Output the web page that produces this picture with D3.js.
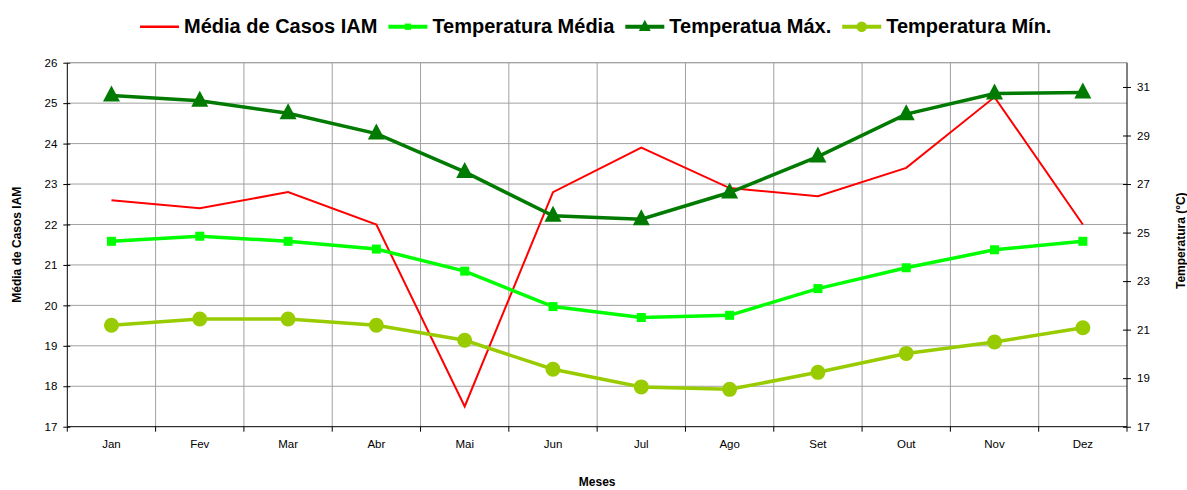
<!DOCTYPE html>
<html>
<head>
<meta charset="utf-8">
<script src="https://cdn.jsdelivr.net/npm/d3@7"></script>
<style>
  body { margin: 0; background: #fff; }
  text { font-family: "Liberation Sans", Arial, sans-serif; }
</style>
</head>
<body>
<svg id="chart" width="1187" height="490"></svg>
<script>
const meses = ["Jan", "Fev", "Mar", "Abr", "Mai", "Jun", "Jul", "Ago", "Set", "Out", "Nov", "Dez"];
const casosIAM = [22.6, 22.4, 22.8, 22.0, 17.5, 22.8, 23.9, 22.9, 22.7, 23.4, 25.15, 22.0];
const tempMedia = [24.64, 24.85, 24.64, 24.32, 23.41, 21.95, 21.5, 21.59, 22.69, 23.55, 24.29, 24.64];
const tempMax = [30.65, 30.43, 29.92, 29.08, 27.5, 25.69, 25.55, 26.65, 28.13, 29.88, 30.73, 30.77];
const tempMin = [21.18, 21.44, 21.44, 21.18, 20.56, 19.37, 18.64, 18.54, 19.24, 20.02, 20.49, 21.08];
const leftTicks = [17, 18, 19, 20, 21, 22, 23, 24, 25, 26];
const rightTicks = [17, 19, 21, 23, 25, 27, 29, 31];

const margin = { top: 62.7, right: 60, bottom: 63.3, left: 67.3 };
const width = 1187 - margin.left - margin.right;
const height = 490 - margin.top - margin.bottom;

const svg = d3.select("#chart");
const g = svg.append("g").attr("transform", "translate(" + margin.left + "," + margin.top + ")");

const x = d3.scaleBand().domain(meses).range([0, width]);
const yL = d3.scaleLinear().domain([17, 26]).range([height, 0]);
const yR = d3.scaleLinear().domain([17, 32]).range([height, 0]);

// grid
g.append("g")
  .selectAll("line")
  .data(leftTicks.slice(1))
  .enter().append("line")
  .attr("x1", 0).attr("x2", width)
  .attr("y1", d => yL(d)).attr("y2", d => yL(d))
  .attr("stroke", "#a0a0a0").attr("stroke-width", 1);

g.append("g")
  .selectAll("line")
  .data(meses.slice(1))
  .enter().append("line")
  .attr("x1", d => x(d)).attr("x2", d => x(d))
  .attr("y1", 0).attr("y2", height)
  .attr("stroke", "#a0a0a0").attr("stroke-width", 1);

// axes
const axL = g.append("g")
  .call(d3.axisLeft(yL).tickValues(leftTicks).tickSize(4).tickPadding(6));
axL.selectAll(".tick line").attr("x1", 3);

const axR = g.append("g")
  .attr("transform", "translate(" + width + ",0)")
  .call(d3.axisRight(yR).tickValues(rightTicks).tickSize(4).tickPadding(6));
axR.selectAll(".tick line").attr("x1", -4);

const axB = g.append("g")
  .attr("transform", "translate(0," + height + ")")
  .call(d3.axisBottom(x).tickSize(0).tickPadding(13));

// boundary ticks for the category axis
axB.selectAll(".tickb")
  .data(meses.concat(["_end"]))
  .enter().append("line")
  .attr("x1", (d, i) => i * x.bandwidth()).attr("x2", (d, i) => i * x.bandwidth())
  .attr("y1", 0).attr("y2", 5)
  .attr("stroke", "#000");

[axL, axR, axB].forEach(a => {
  a.select(".domain").attr("stroke", "#000").attr("stroke-width", 1);
  a.selectAll(".tick line").attr("stroke", "#000");
  a.selectAll("text").attr("font-size", 11.5).attr("fill", "#000")
    .attr("font-family", "'Liberation Sans', Arial, sans-serif");
});
axL.select(".domain").attr("d", "M0,0V" + height);
axR.select(".domain").attr("d", "M0,0V" + height);
axB.select(".domain").attr("d", "M0,0H" + width);

// top border line
g.append("line").attr("x1", 0).attr("x2", width).attr("y1", 0).attr("y2", 0)
  .attr("stroke", "#a0a0a0");

const cx = d => x(d) + x.bandwidth() / 2;

const series = [
  { name: "Média de Casos IAM", values: casosIAM, scale: yL, color: "#ff0000", width: 2, marker: "none" },
  { name: "Temperatura Média", values: tempMedia, scale: yR, color: "#00ff00", width: 3.5, marker: "square" },
  { name: "Temperatua Máx.", values: tempMax, scale: yR, color: "#007a00", width: 3.5, marker: "triangle" },
  { name: "Temperatura Mín.", values: tempMin, scale: yR, color: "#99cc00", width: 3.5, marker: "circle" }
];

function drawMarker(sel, marker, color) {
  if (marker === "square") {
    sel.append("rect").attr("x", -4.5).attr("y", -4.5).attr("width", 9).attr("height", 9).attr("fill", color);
  } else if (marker === "triangle") {
    sel.append("path").attr("d", "M0,-10L8.5,6L-8.5,6Z").attr("fill", color);
  } else if (marker === "circle") {
    sel.append("circle").attr("r", 7.5).attr("fill", color);
  }
}

series.forEach(s => {
  const line = d3.line()
    .x((d, i) => cx(meses[i]))
    .y(d => s.scale(d));
  g.append("path")
    .datum(s.values)
    .attr("fill", "none")
    .attr("stroke", s.color)
    .attr("stroke-width", s.width)
    .attr("stroke-linejoin", "miter")
    .attr("d", line);
  if (s.marker !== "none") {
    s.values.forEach((v, i) => {
      const m = g.append("g").attr("transform", "translate(" + cx(meses[i]) + "," + s.scale(v) + ")");
      drawMarker(m, s.marker, s.color);
    });
  }
});

// axis titles
svg.append("text")
  .attr("transform", "translate(21," + (margin.top + height / 2) + ") rotate(-90)")
  .attr("text-anchor", "middle")
  .attr("font-size", 12).attr("font-weight", "bold")
  .text("Média de Casos IAM");

svg.append("text")
  .attr("transform", "translate(1185," + (margin.top + height / 2 - 4) + ") rotate(-90)")
  .attr("text-anchor", "middle")
  .attr("font-size", 12).attr("font-weight", "bold")
  .text("Temperatura (°C)");

svg.append("text")
  .attr("x", margin.left + width / 2)
  .attr("y", 486)
  .attr("text-anchor", "middle")
  .attr("font-size", 12).attr("font-weight", "bold")
  .text("Meses");

// legend, laid out left to right
const legend = svg.append("g");
let lx = 140;
series.forEach(s => {
  const lg = legend.append("g").attr("transform", "translate(" + lx + ",26.7)");
  lg.append("line").attr("x1", 0).attr("x2", 39).attr("y1", 0).attr("y2", 0)
    .attr("stroke", s.color).attr("stroke-width", s.width === 2 ? 2.5 : 4);
  const m = lg.append("g").attr("transform", "translate(19.5,0) scale(0.7)");
  drawMarker(m, s.marker, s.color);
  const t = lg.append("text").attr("x", 44).attr("y", 6)
    .attr("font-size", 20).attr("font-weight", "bold")
    .text(s.name);
  lx += 44 + t.node().getComputedTextLength() + 11;
});
</script>
</body>
</html>
